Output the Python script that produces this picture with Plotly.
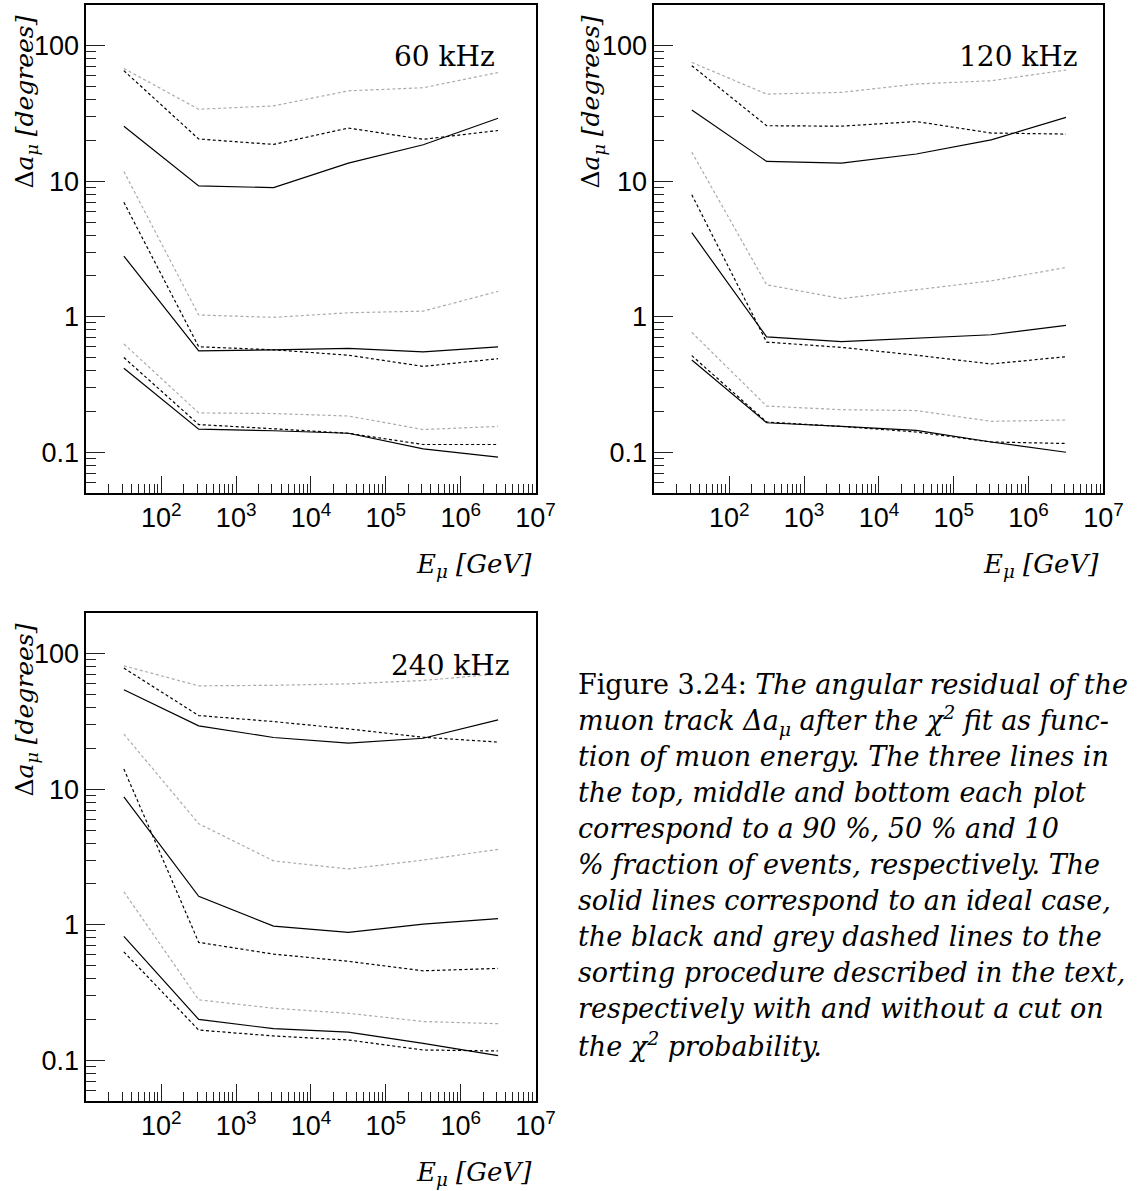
import plotly.graph_objects as go

W, H = 1148, 1191

# Muon energies at which the residuals were evaluated [GeV]
ENERGY_GEV = [3.16e1, 3.16e2, 3.16e3, 3.16e4, 3.16e5, 3.16e6]

# Angular residual [degrees]; ideal = solid, cut = black dashed (with chi2 cut),
# nocut = grey dashed (without chi2 cut); 90 / 50 / 10 % event fractions.
R60_IDEAL_90 = [25.5, 9.25, 8.97, 13.6, 18.6, 29.2]
R60_CUT_90 = [65.5, 20.5, 18.7, 24.7, 20.4, 23.7]
R60_NOCUT_90 = [68.0, 34.0, 36.0, 46.5, 49.0, 63.5]
R60_IDEAL_50 = [2.8, 0.56, 0.57, 0.585, 0.55, 0.60]
R60_CUT_50 = [7.0, 0.60, 0.57, 0.52, 0.43, 0.49]
R60_NOCUT_50 = [11.8, 1.03, 0.99, 1.07, 1.10, 1.54]
R60_IDEAL_10 = [0.417, 0.148, 0.144, 0.138, 0.106, 0.092]
R60_CUT_10 = [0.50, 0.160, 0.149, 0.138, 0.114, 0.114]
R60_NOCUT_10 = [0.63, 0.195, 0.193, 0.185, 0.147, 0.155]

R120_IDEAL_90 = [33.6, 14.0, 13.6, 15.9, 20.2, 29.6]
R120_CUT_90 = [71.3, 25.7, 25.5, 27.6, 22.7, 22.3]
R120_NOCUT_90 = [75.4, 44.0, 45.3, 52.2, 55.2, 66.2]
R120_IDEAL_50 = [4.17, 0.71, 0.654, 0.69, 0.736, 0.864]
R120_CUT_50 = [7.95, 0.65, 0.594, 0.52, 0.448, 0.507]
R120_NOCUT_50 = [16.4, 1.72, 1.36, 1.58, 1.84, 2.31]
R120_IDEAL_10 = [0.48, 0.165, 0.155, 0.145, 0.119, 0.100]
R120_CUT_10 = [0.516, 0.167, 0.155, 0.141, 0.119, 0.116]
R120_NOCUT_10 = [0.767, 0.219, 0.206, 0.203, 0.169, 0.173]

R240_IDEAL_90 = [54.2, 29.4, 24.1, 21.9, 23.8, 32.5]
R240_CUT_90 = [78.4, 35.0, 31.6, 27.9, 24.2, 22.3]
R240_NOCUT_90 = [81.5, 58.0, 58.5, 60.0, 63.5, 71.0]
R240_IDEAL_50 = [8.8, 1.62, 0.978, 0.877, 1.01, 1.11]
R240_CUT_50 = [14.1, 0.741, 0.607, 0.537, 0.457, 0.476]
R240_NOCUT_50 = [25.5, 5.57, 2.96, 2.58, 3.00, 3.60]
R240_IDEAL_10 = [0.82, 0.200, 0.171, 0.161, 0.133, 0.108]
R240_CUT_10 = [0.63, 0.167, 0.151, 0.141, 0.119, 0.117]
R240_NOCUT_10 = [1.75, 0.279, 0.242, 0.222, 0.193, 0.186]

RATE_LABELS = ["60 kHz", "120 kHz", "240 kHz"]

X_TICK_VALUES = [1e2, 1e3, 1e4, 1e5, 1e6, 1e7]
X_TICK_LABELS = ["10<sup>2</sup>", "10<sup>3</sup>", "10<sup>4</sup>",
                 "10<sup>5</sup>", "10<sup>6</sup>", "10<sup>7</sup>"]
Y_TICK_VALUES = [0.1, 1, 10, 100]
Y_TICK_LABELS = ["0.1", "1", "10", "100"]

CAPTION_LINES = [
    "Figure 3.24: <i>The angular residual of the</i>",
    "<i>muon track Δa<sub>μ</sub> after the χ<sup>2</sup> fit as func-</i>",
    "<i>tion of muon energy. The three lines in</i>",
    "<i>the top, middle and bottom each plot</i>",
    "<i>correspond to a 90 %, 50 % and 10</i>",
    "<i>% fraction of events, respectively. The</i>",
    "<i>solid lines correspond to an ideal case,</i>",
    "<i>the black and grey dashed lines to the</i>",
    "<i>sorting procedure described in the text,</i>",
    "<i>respectively with and without a cut on</i>",
    "<i>the χ<sup>2</sup> probability.</i>",
]

panels = [
    dict(label=RATE_LABELS[0],
         series=[(R60_NOCUT_90, R60_CUT_90, R60_IDEAL_90),
                 (R60_NOCUT_50, R60_CUT_50, R60_IDEAL_50),
                 (R60_NOCUT_10, R60_CUT_10, R60_IDEAL_10)],
         frame=(88, 545, 5, 493), label_right=506, ytitle_x=26),
    dict(label=RATE_LABELS[1],
         series=[(R120_NOCUT_90, R120_CUT_90, R120_IDEAL_90),
                 (R120_NOCUT_50, R120_CUT_50, R120_IDEAL_50),
                 (R120_NOCUT_10, R120_CUT_10, R120_IDEAL_10)],
         frame=(666, 1123, 5, 493), label_right=1098, ytitle_x=603),
    dict(label=RATE_LABELS[2],
         series=[(R240_NOCUT_90, R240_CUT_90, R240_IDEAL_90),
                 (R240_NOCUT_50, R240_CUT_50, R240_IDEAL_50),
                 (R240_NOCUT_10, R240_CUT_10, R240_IDEAL_10)],
         frame=(88, 545, 613, 1101), label_right=520, ytitle_x=26),
]


def px(x):
    return x / W


def py(y):
    return 1 - y / H


x_minor = [d * 10 ** k for k in range(1, 7) for d in range(2, 10)]
y_minor = [d * 10.0 ** k for k in range(-2, 3) for d in range(2, 10)
           if 0.05 <= d * 10.0 ** k <= 200]

TICK_COLOR = "#222222"
TICK_FONT = dict(family="Liberation Sans, Arial, sans-serif", size=27, color="black")
SERIF = "DejaVu Serif, serif"

fig = go.Figure()
layout = dict(
    width=W, height=H, margin=dict(l=0, r=0, t=0, b=0),
    paper_bgcolor="white", plot_bgcolor="white", showlegend=False,
)
annotations = []

styles = [
    dict(color="#ababab", width=1.2, dash="3px,2.5px"),
    dict(color="black", width=1.2, dash="3px,2.5px"),
    dict(color="black", width=1.2, dash="solid"),
]

for i, p in enumerate(panels):
    n = "" if i == 0 else str(i + 1)
    xa, ya = "x" + n, "y" + n
    left, right, top, bottom = p["frame"]
    for group in p["series"]:
        for values, st in zip(group, styles):
            fig.add_trace(go.Scatter(
                x=ENERGY_GEV, y=values, mode="lines", line=st,
                xaxis=xa, yaxis=ya, hoverinfo="skip"))

    layout["xaxis" + n] = dict(
        type="log", range=[1, 7], domain=[px(left), px(right)], anchor=ya,
        showline=True, linecolor="black", linewidth=2, mirror=True,
        ticks="inside", ticklen=17, tickwidth=1, tickcolor=TICK_COLOR,
        tickmode="array", tickvals=X_TICK_VALUES, ticktext=X_TICK_LABELS,
        tickfont=TICK_FONT, showgrid=False, zeroline=False,
        minor=dict(tickmode="array", tickvals=x_minor, ticks="inside",
                   ticklen=9, tickwidth=1, tickcolor=TICK_COLOR, showgrid=False),
    )
    layout["yaxis" + n] = dict(
        type="log", range=[-1.30103, 2.30103], domain=[py(bottom), py(top)],
        anchor=xa, showline=True, linecolor="black", linewidth=2, mirror=True,
        ticks="inside", ticklen=19, tickwidth=1, tickcolor=TICK_COLOR,
        tickmode="array", tickvals=Y_TICK_VALUES, ticktext=Y_TICK_LABELS,
        tickfont=TICK_FONT, showgrid=False, zeroline=False,
        minor=dict(tickmode="array", tickvals=y_minor, ticks="inside",
                   ticklen=10, tickwidth=1, tickcolor=TICK_COLOR, showgrid=False),
    )

    # rate label in the upper right corner of the frame
    annotations.append(dict(
        text=p["label"], xref="paper", yref="paper",
        x=px(p["label_right"]), y=py(top + 52), xanchor="right", yanchor="middle",
        showarrow=False, font=dict(family=SERIF, size=28, color="black")))
    # y-axis title
    annotations.append(dict(
        text="Δ<i>a</i><sub><i>μ</i></sub> <i>[degrees]</i>", xref="paper", yref="paper",
        x=px(p["ytitle_x"]), y=py(top + 97), xanchor="center", yanchor="middle",
        textangle=-90, showarrow=False,
        font=dict(family=SERIF, size=25, color="black")))
    # x-axis title
    annotations.append(dict(
        text="<i>E<sub>μ</sub> [GeV]</i>", xref="paper", yref="paper",
        x=px(right - 2), y=py(bottom + 72), xanchor="right", yanchor="middle",
        showarrow=False, font=dict(family=SERIF, size=26, color="black")))

for k, line in enumerate(CAPTION_LINES):
    annotations.append(dict(
        text=line, xref="paper", yref="paper",
        x=px(586), y=py(685 + 35.9 * k), xanchor="left", yanchor="middle",
        showarrow=False, font=dict(family=SERIF, size=27, color="black")))

layout["annotations"] = annotations
fig.update_layout(**layout)
fig.write_html("out.html")
